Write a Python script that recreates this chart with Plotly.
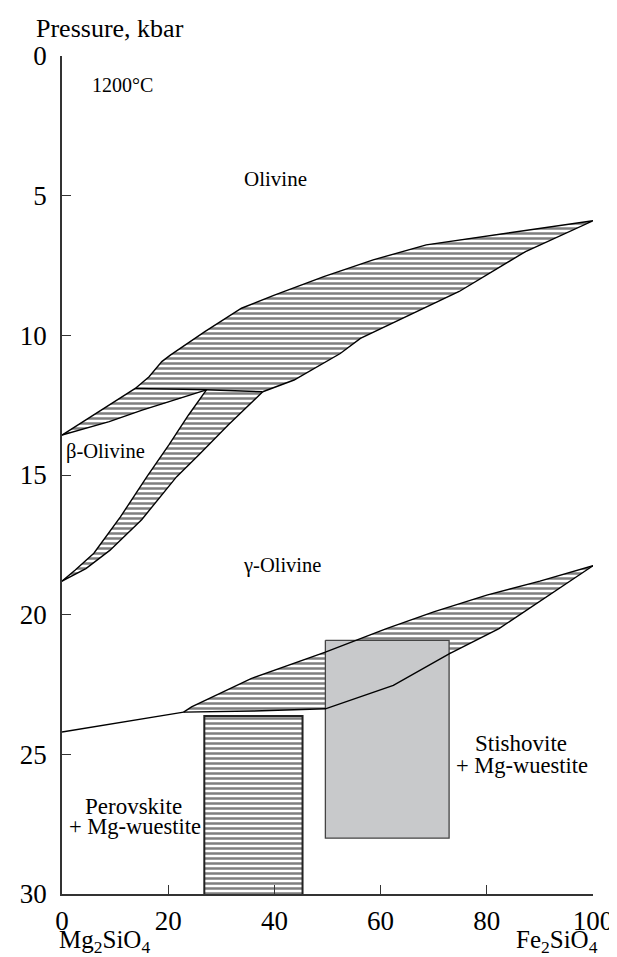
import plotly.graph_objects as go

# ---------------- data (composition %Fe2SiO4, pressure kbar) ----------------
# alpha (olivine) boundary: beta-loop upper part then olivine-out line
beta_upper_x = [0, 5.8, 9.8, 13.8]
beta_upper_p = [13.57, 12.86, 12.38, 11.9]
ol_upper_x = [13.8, 16.4, 18.8, 20.4, 26.9, 33.8, 40, 49.3, 58.6, 68.6, 81, 90.4, 100]
ol_upper_p = [11.9, 11.48, 10.94, 10.71, 9.87, 9.03, 8.56, 7.9, 7.3, 6.76, 6.41, 6.16, 5.9]
# lower boundary of alpha+gamma field (right to left)
ag_lower_x = [100, 87.3, 74.8, 56.2, 52.4, 43.7, 37.8]
ag_lower_p = [5.9, 7.0, 8.43, 10.11, 10.65, 11.6, 12.02]
# invariant tie line
tie_x = [13.8, 27.2, 37.8]
tie_p = [11.9, 11.95, 12.02]
# beta-loop lower boundary
beta_lower_x = [0, 8.9, 15.1, 21.3, 27.2]
beta_lower_p = [13.57, 13.09, 12.68, 12.32, 11.95]
# beta+gamma loop
bg_left_x = [27.2, 23.8, 20.1, 16.0, 11, 6, 2.5, 0]
bg_left_p = [11.95, 12.86, 13.93, 15.06, 16.5, 17.8, 18.4, 18.8]
bg_right_x = [37.8, 31.3, 25.7, 21.6, 15, 9, 4.5, 0]
bg_right_p = [12.02, 13.21, 14.29, 15.06, 16.6, 17.7, 18.35, 18.8]
# gamma -> perovskite + Mg-wuestite / stishovite + Mg-wuestite
low_left_x = [0, 22.9]
low_left_p = [24.2, 23.49]
low_upper_x = [22.9, 24.4, 35.6, 49.6, 61.1, 70, 80, 90, 100]
low_upper_p = [23.49, 23.3, 22.29, 21.34, 20.5, 19.9, 19.3, 18.8, 18.25]
low_lower_x = [22.9, 36, 49.6, 62.4, 72.9, 82.3, 91, 100]
low_lower_p = [23.49, 23.45, 23.37, 22.53, 21.4, 20.5, 19.4, 18.25]
# perovskite + Mg-wuestite experimental box
pv_x = [26.8, 45.3]
pv_p = [23.63, 30]
# stishovite + Mg-wuestite experimental box
st_x = [49.6, 72.9]
st_p = [20.92, 28.0]

x_ticks = [0, 20, 40, 60, 80, 100]
y_ticks = [0, 5, 10, 15, 20, 25, 30]

FONT = "Liberation Serif"
LINE = dict(color="black", width=1.4)
HATCH = dict(shape="-", fgcolor="black", bgcolor="white", size=5, solidity=0.5)

fig = go.Figure()


def hatched(xs, ps):
    fig.add_trace(go.Scatter(x=xs, y=ps, mode="none", fill="toself",
                             fillpattern=HATCH, hoverinfo="skip", showlegend=False))


def line(xs, ps):
    fig.add_trace(go.Scatter(x=xs, y=ps, mode="lines", line=LINE,
                             hoverinfo="skip", showlegend=False))


# alpha + gamma field
hatched(ol_upper_x + ag_lower_x + tie_x[::-1],
        ol_upper_p + ag_lower_p + tie_p[::-1])
# alpha + beta field
hatched(beta_upper_x + tie_x[1:2] + beta_lower_x[::-1],
        beta_upper_p + tie_p[1:2] + beta_lower_p[::-1])
# beta + gamma field
hatched(bg_left_x + bg_right_x[::-1] + [tie_x[1]],
        bg_left_p + bg_right_p[::-1] + [tie_p[1]])
# lower two-phase band
hatched(low_upper_x + low_lower_x[::-1], low_upper_p + low_lower_p[::-1])
# perovskite box
hatched([pv_x[0], pv_x[1], pv_x[1], pv_x[0], pv_x[0]],
        [pv_p[0], pv_p[0], pv_p[1], pv_p[1], pv_p[0]])
fig.add_trace(go.Scatter(x=[pv_x[0], pv_x[0], pv_x[1], pv_x[1]],
                         y=[pv_p[1], pv_p[0], pv_p[0], pv_p[1]], mode="lines",
                         line=dict(color="#222", width=2), hoverinfo="skip", showlegend=False))
# stishovite box
fig.add_trace(go.Scatter(x=[st_x[0], st_x[1], st_x[1], st_x[0], st_x[0]],
                         y=[st_p[0], st_p[0], st_p[1], st_p[1], st_p[0]],
                         mode="lines", fill="toself", fillcolor="#c8c9cb",
                         line=dict(color="#444", width=1.3), hoverinfo="skip", showlegend=False))

# boundary lines
line(beta_upper_x + ol_upper_x[1:] + ag_lower_x[1:], beta_upper_p + ol_upper_p[1:] + ag_lower_p[1:])
line(tie_x, tie_p)
line(beta_lower_x, beta_lower_p)
line(bg_left_x, bg_left_p)
line(bg_right_x, bg_right_p)
line(low_left_x + low_lower_x[1:], low_left_p + low_lower_p[1:])
line(low_upper_x, low_upper_p)

axis_common = dict(showline=True, linecolor="#333", linewidth=1.6, ticks="inside",
                   ticklen=9, tickwidth=1.3, tickcolor="#333", showgrid=False, zeroline=False,
                   tickfont=dict(family=FONT, size=27, color="black"))
fig.update_xaxes(range=[0, 100], tickvals=x_ticks, ticklabelstandoff=2, **axis_common)
fig.update_yaxes(range=[30, 0], tickvals=y_ticks, ticklabelstandoff=8, **axis_common)


def label(text, x, y, size=21, **kw):
    fig.add_annotation(text=text, x=x, y=y, showarrow=False,
                       font=dict(family=FONT, size=size, color="black"), **kw)


label("1200°C", 11.4, 1.05, 20)
label("Olivine", 40.3, 4.42, 21)
label("β-Olivine", 8.2, 14.16, 20.5)
label("γ-Olivine", 41.5, 18.25, 20.5)
label("Stishovite", 86.4, 24.6, 23)
label("+ Mg-wuestite", 86.6, 25.4, 22.5)
label("Perovskite", 13.5, 26.85, 23)
label("+ Mg-wuestite", 13.7, 27.6, 22.5)

fig.add_annotation(text="Pressure, kbar", xref="paper", yref="paper", x=0, y=1,
                   xanchor="left", yanchor="middle", xshift=-28, yshift=28, showarrow=False,
                   font=dict(family=FONT, size=26, color="black"))
fig.add_annotation(text="Mg<sub>2</sub>SiO<sub>4</sub>", xref="paper", yref="paper", x=0, y=0,
                   xanchor="center", yanchor="middle", xshift=42, yshift=-47, showarrow=False,
                   font=dict(family=FONT, size=25, color="black"))
fig.add_annotation(text="Fe<sub>2</sub>SiO<sub>4</sub>", xref="paper", yref="paper", x=1, y=0,
                   xanchor="right", yanchor="middle", xshift=7, yshift=-47, showarrow=False,
                   font=dict(family=FONT, size=25, color="black"))

fig.update_layout(width=617, height=957, margin=dict(l=49, r=32, t=48, b=71),
                  paper_bgcolor="white", plot_bgcolor="white", showlegend=False)

fig.write_html("out.html")
